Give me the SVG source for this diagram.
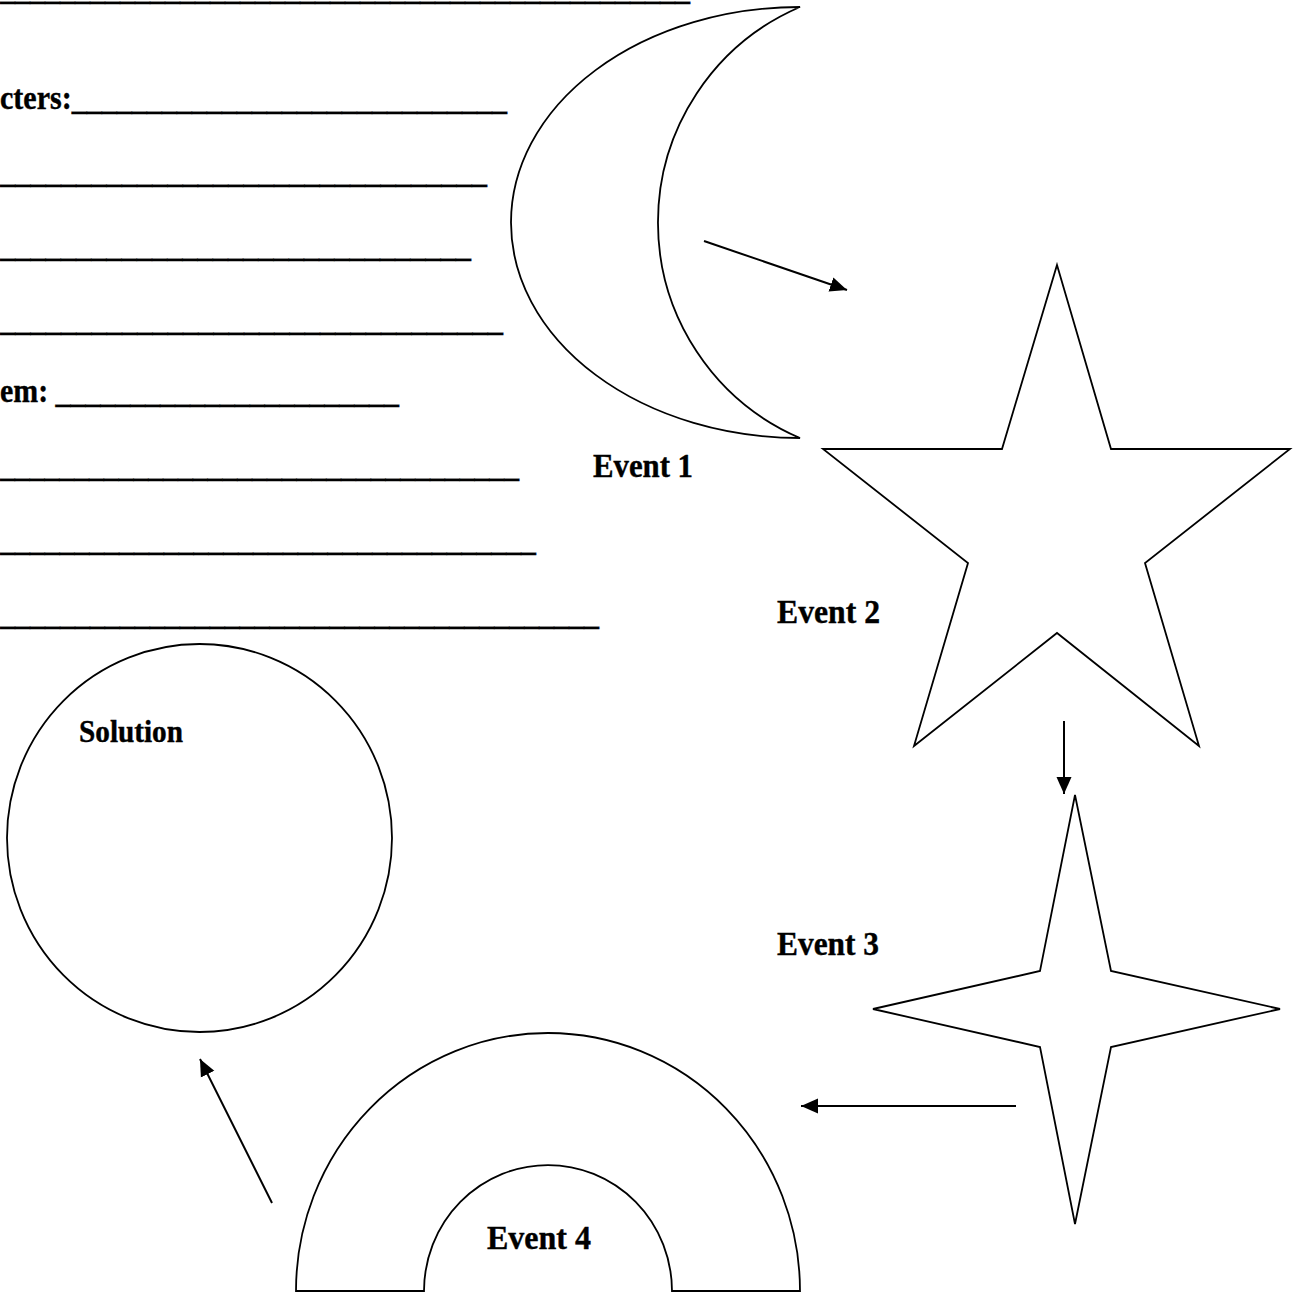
<svg xmlns="http://www.w3.org/2000/svg" width="1301" height="1299" viewBox="0 0 1301 1299">
<style>
.t{font-family:"Liberation Serif","Times New Roman",serif;font-weight:bold;font-size:33px;fill:#000;stroke:#000;stroke-width:0.4}
.s{fill:#fff;stroke:#000;stroke-width:1.8;stroke-linejoin:miter}
.c{fill:none;stroke:#000;stroke-width:2}
</style>
<defs>
<marker id="ah" markerUnits="userSpaceOnUse" markerWidth="18" markerHeight="16" viewBox="0 0 18 16" refX="17" refY="8" orient="auto">
<path d="M0 0.5 L17 8 L0 15.5 Z" fill="#000"/>
</marker>
</defs>
<rect width="1301" height="1299" fill="#fff"/>
<g id="form-lines">
<text class="t" x="0" y="-1.5" textLength="690" lengthAdjust="spacingAndGlyphs">______________________________________________</text>
<text class="t" x="0" y="108.5" textLength="507" lengthAdjust="spacingAndGlyphs">cters:_____________________________</text>
<text class="t" x="0" y="182" textLength="487" lengthAdjust="spacingAndGlyphs">________________________________</text>
<text class="t" x="0" y="256" textLength="471" lengthAdjust="spacingAndGlyphs">_______________________________</text>
<text class="t" x="0" y="329.5" textLength="503" lengthAdjust="spacingAndGlyphs">_________________________________</text>
<text class="t" x="0" y="402" textLength="399" lengthAdjust="spacingAndGlyphs">em: _______________________</text>
<text class="t" x="0" y="476" textLength="519" lengthAdjust="spacingAndGlyphs">___________________________________</text>
<text class="t" x="0" y="549.5" textLength="536" lengthAdjust="spacingAndGlyphs">____________________________________</text>
<text class="t" x="0" y="624" textLength="599" lengthAdjust="spacingAndGlyphs">________________________________________</text>
</g>
<g id="event1">
<path class="s" d="M800 7 A289 215.5 0 0 0 800 438 A234.5 234.5 0 0 1 800 7 Z"/>
<text class="t" x="593" y="476.5" textLength="100" lengthAdjust="spacingAndGlyphs">Event 1</text>
</g>
<g id="event2">
<path class="s" d="M1057 265 L1111 449 L1290 449 L1145 563 L1199 746 L1057 633 L914 746 L968 563 L823 449 L1002 449 Z"/>
<text class="t" x="777" y="623" textLength="103" lengthAdjust="spacingAndGlyphs">Event 2</text>
</g>
<g id="event3">
<path class="s" d="M1075 795 L1111 971 L1280 1009 L1111 1047 L1075 1224 L1040 1047 L873 1009 L1040 971 Z"/>
<text class="t" x="777" y="955" textLength="102" lengthAdjust="spacingAndGlyphs">Event 3</text>
</g>
<g id="event4">
<path class="s" d="M296 1291 A252 258 0 0 1 800 1291 L672 1291 A124 126 0 0 0 424 1291 Z"/>
<text class="t" x="487" y="1249" textLength="104" lengthAdjust="spacingAndGlyphs">Event 4</text>
</g>
<g id="solution">
<ellipse class="s" cx="199.5" cy="838" rx="192.5" ry="194"/>
<text class="t" x="79" y="742" style="font-size:31px" textLength="104" lengthAdjust="spacingAndGlyphs">Solution</text>
</g>
<g id="connectors">
<line class="c" x1="704" y1="241" x2="847" y2="290" marker-end="url(#ah)"/>
<line class="c" x1="1064" y1="721" x2="1064" y2="794" marker-end="url(#ah)"/>
<line class="c" x1="1016" y1="1106" x2="801" y2="1106" marker-end="url(#ah)"/>
<line class="c" x1="272" y1="1203" x2="200" y2="1059" marker-end="url(#ah)"/>
</g>
</svg>
